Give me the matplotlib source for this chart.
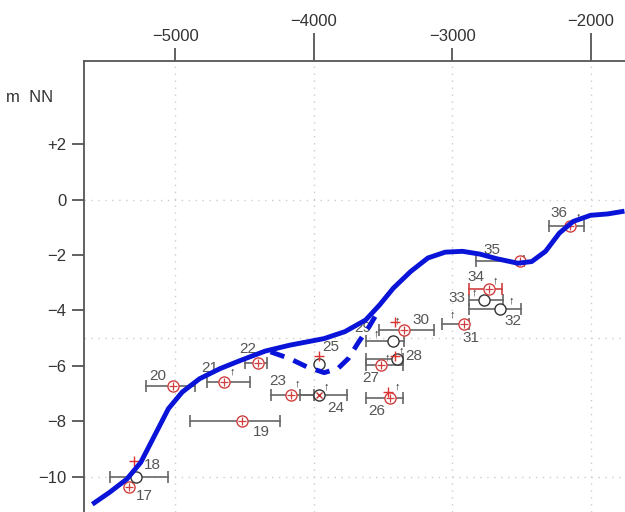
import matplotlib
matplotlib.use("Agg")
import matplotlib.pyplot as plt

plt.rcParams['font.family'] = ['Liberation Sans', 'DejaVu Sans']

# --- data (years, m NN) ---
sample_ids = [17, 18, 19, 20, 21, 22, 23, 24, 25, 26, 27, 28, 29, 30, 31, 32, 33, 34, 35, 36]
sample_year = [-5337, -5287, -4520, -5017, -4650, -4400, -4162, -3962, -3960, -3450,
               -3512, -3400, -3425, -3345, -2917, -2655, -2767, -2737, -2512, -2150]
sample_level = [-10.36, -10.0, -8.0, -6.74, -6.59, -5.89, -7.05, -7.07, -5.95, -7.15,
                -5.98, -5.74, -5.11, -4.71, -4.49, -3.95, -3.63, -3.23, -2.21, -0.97]
err_lo = [None, -5470, -4892, -5212, -4770, -4500, -4312, -4100, None, -3620,
          -3625, -3625, -3620, -3525, -3070, -2880, -2880, -2880, -2825, -2300]
err_hi = [None, -5050, -4242, -4855, -4462, -4337, -4000, -3762, None, -3355,
          -3355, -3355, -3345, -3130, -2880, -2505, -2630, -2640, -2480, -2045]
# red = dated sample (red circle with cross), black = open circle
sample_kind = ['r', 'k', 'r', 'r', 'r', 'r', 'r', 'x', 'k', 'r',
               'r', 'k', 'k', 'r', 'r', 'k', 'k', 'r', 'r', 'r']
upward = [False, False, False, False, True, False, True, True, False, True,
          True, True, True, True, True, True, True, True, False, True]

# extra red crosses next to some samples
extra_year = [-5300, -3960, -3462, -3412, -3412]
extra_level = [-9.43, -5.65, -6.95, -5.64, -4.43]

# sea level curve
curve_year = [-5600, -5475, -5350, -5250, -5150, -5050, -4950, -4825, -4675, -4525,
              -4350, -4175, -4050, -3925, -3775, -3625, -3525, -3425, -3300, -3175,
              -3050, -2925, -2800, -2675, -2525, -2425, -2325, -2225, -2125, -2000,
              -1875, -1755]
curve_level = [-11.0, -10.57, -10.09, -9.49, -8.52, -7.55, -6.95, -6.47, -6.10, -5.80,
               -5.47, -5.26, -5.14, -5.02, -4.77, -4.35, -3.81, -3.20, -2.60, -2.11,
               -1.90, -1.87, -1.97, -2.14, -2.30, -2.24, -1.87, -1.21, -0.79, -0.57,
               -0.52, -0.42]
dip_year = [-4312, -4175, -4050, -3925, -3825, -3750, -3675, -3600, -3550]
dip_level = [-5.50, -5.74, -6.04, -6.25, -6.10, -5.74, -5.14, -4.59, -4.17]

# label offsets in pixels (style)
label_off = [(16, -9), (17, 12), (20, -11), (-15, 10), (-14, 14), (-11, 14), (-14, 14),
             (17, -13), (11, 17), (-13, -13), (-11, -13), (17, 3), (-31, 13), (17, 10),
             (7, -14), (13, -12), (-27, 2), (-13, 12), (-28, 11), (-11, 13)]
arrow_off = [None, None, None, None, (9, 11), None, (6, 11), (7, 9), None, (7, 11),
             (6, 8), (5, 8), (-17, 8), (-7, 10), (-11, 9), (11, 8), (-10, 8), (7, 9),
             None, (9, 10)]

fig = plt.figure(figsize=(6.25, 5.12), dpi=100)
ax = fig.add_axes([84 / 625, 0, 1 - 84 / 625, 1 - 61 / 512])
ax.set_xlim(-5660, -1751)
ax.set_ylim(-11.28, 5)

grey = '#555555'
for s in ['right', 'bottom']:
    ax.spines[s].set_visible(False)
for s in ['left', 'top']:
    ax.spines[s].set_color(grey)
    ax.spines[s].set_linewidth(1.3)

# dotted grid
for gx in [-5000, -4000, -3000, -2000]:
    ax.axvline(gx, color='#cccccc', lw=1, ls=(0, (1, 4)), zorder=0)
for gy in [0, -5, -10]:
    ax.axhline(gy, color='#cccccc', lw=1, ls=(0, (1, 4)), zorder=0)

# ticks
ax.xaxis.tick_top()
ax.set_xticks([-4000, -2000])
ax.set_xticklabels(['\u22124000', '\u22122000'])
ax.set_xticks([-5000, -3000], minor=True)
ax.set_xticklabels(['\u22125000', '\u22123000'], minor=True)
ax.tick_params(axis='x', which='major', length=20, width=1.3, color=grey,
               labelsize=12, labelcolor='#333333', pad=3)
ax.tick_params(axis='x', which='minor', length=9.5, width=1.3, color=grey,
               labelsize=12, labelcolor='#333333', pad=3)
yt = [2, 0, -2, -4, -6, -8, -10]
ax.set_yticks(yt)
ax.set_yticklabels(['+2' if v > 0 else ('0' if v == 0 else '\u2212%d' % -v) for v in yt])
ax.tick_params(axis='y', length=8.5, width=1.3, color=grey, labelsize=12,
               labelcolor='#333333', pad=4)
fig.text(6 / 625, 1 - 97 / 512, 'm  NN', fontsize=12, color='#333333', va='center')

# samples
for i in range(len(sample_ids)):
    x, y = sample_year[i], sample_level[i]
    if err_lo[i] is not None:
        bc = '#d04040' if sample_ids[i] == 34 else '#666666'
        ax.plot([err_lo[i], err_hi[i]], [y, y], color=bc, lw=1.2, zorder=2)
        for e in (err_lo[i], err_hi[i]):
            ax.plot([e], [y], marker='|', ms=8, mew=1.2, color=bc, zorder=2)
    ec = '#d04040' if sample_kind[i] == 'r' else '#333333'
    ax.plot([x], [y], marker='o', ms=8, mfc='white', mec=ec, mew=1.0, zorder=3)
    if sample_kind[i] == 'r':
        ax.plot([x], [y], marker='+', ms=6, mew=0.9, color='#d04040', zorder=3)
    elif sample_kind[i] == 'x':
        ax.plot([x], [y], marker='x', ms=4.5, mew=1.0, color='#c03030', zorder=3)
    ax.annotate(str(sample_ids[i]), (x, y), xytext=label_off[i], textcoords='offset pixels',
                ha='center', va='center', fontsize=11, color='#555555', zorder=1)
    if upward[i]:
        ax.annotate('\u2191', (x, y), xytext=arrow_off[i], textcoords='offset pixels',
                    ha='center', va='center', fontsize=8, color='#222222', zorder=2)

ax.plot(extra_year, extra_level, ls='none', marker='+', ms=7, mew=1.0,
        color='#e03030', zorder=3)

# curves
ax.plot(curve_year, curve_level, color='#0a14d8', lw=3.5, solid_capstyle='butt', zorder=4)
ax.plot(dip_year, dip_level, color='#0a14d8', lw=3.5, ls=(0, (3, 2)), zorder=4)

fig.savefig('out.png', dpi=100)
